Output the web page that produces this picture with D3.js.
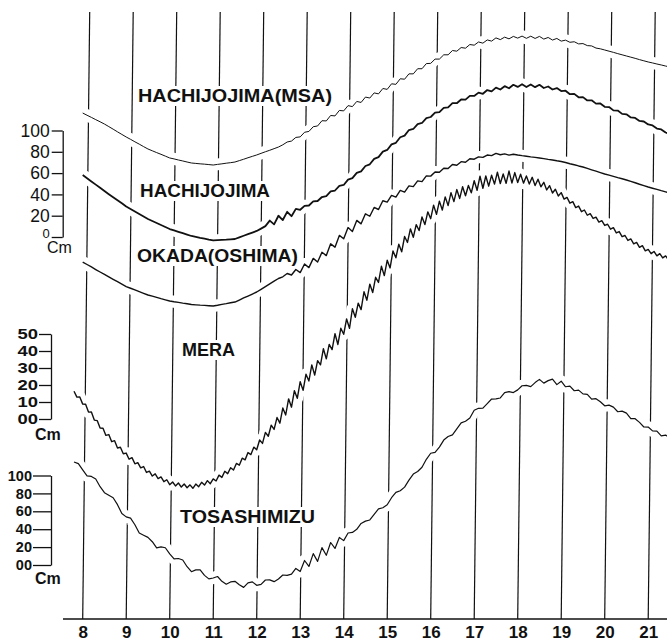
<!DOCTYPE html>
<html><head><meta charset="utf-8">
<script src="https://cdn.jsdelivr.net/npm/d3@7"></script>
<style>body{margin:0;background:#fff}svg{display:block}</style>
</head><body>
<svg id="chart" width="667" height="643"></svg>
<script>
// ---------- DATA ----------
const hourTicks = [8,9,10,11,12,13,14,15,16,17,18,19,20,21];
const topScaleTicks = [0,20,40,60,80,100];
const meraScaleTicks = [0,10,20,30,40,50];
const tosaScaleTicks = [0,20,40,60,80,100];

// traces in cm (relative to each station's own datum), sampled from 8.0 h every 0.1 h
const msaCm = [62.6,60.5,58.5,56.4,54.4, 52.3,49.9,47.5,45.0,42.6, 40.2,38.0,35.7,33.5,31.2, 29.0,27.3,25.6,24.0,22.3,
 20.6,19.7,18.7,17.8,16.8, 15.9,15.5,15.1,14.8,14.4, 14.0,14.6,15.1,15.7,16.2, 16.8,18.1,19.4,20.8,22.1,
 23.4,24.9,26.4,27.8,29.3, 30.8,32.9,35.5,36.4,39.8, 40.3,44.6,45.4,49.8,50.5, 55.4,55.2,60.3,59.9,65.0,
 64.6,69.5,68.6,73.4,72.5, 77.5,76.6,81.4,80.5,85.5, 84.7,89.9,89.4,94.6,94.2, 99.2,99.2,104.0,104.0,108.8,
 109.0,113.0,113.0,117.0,117.0, 121.0,120.4,123.8,123.2,126.6, 126.0,129.0,127.9,130.9,129.8, 132.8,131.2,133.5,131.9,134.2,
 132.6,134.5,132.4,134.4,132.3, 134.2,131.7,133.2,130.8,132.3, 129.8,130.7,128.7,129.2,127.2, 127.5,125.6,125.3,123.3,122.6,
 121.5,120.4,119.3,118.1,117.0, 115.9,114.8,113.7,112.5,111.4, 110.3,109.4,108.4,107.5,106.5, 105.6];

const hachijojimaCm = [70.1,67.1,64.1,61.1,58.1, 55.1,52.2,49.3,46.5,43.6, 40.7,38.4,36.0,33.7,31.3, 29.0,27.1,25.2,23.4,21.5,
 19.6,18.3,17.0,15.7,14.4, 13.1,12.3,11.4,10.6,9.7, 8.9,9.2,9.5,9.7,10.0, 10.3,11.8,13.3,14.8,16.3,
 17.8,20.0,22.3,27.5,24.0, 32.0,28.0,35.7,31.6,38.4, 37.6,41.3,41.6,45.4,45.8, 49.5,50.4,54.7,55.6,60.0,
 60.8,65.8,67.2,72.1,73.5, 78.5,80.1,85.2,86.8,91.9, 93.5,98.7,100.2,105.4,106.9, 112.1,113.1,117.7,118.7,123.3,
 124.3,128.3,128.8,132.8,133.3, 137.3,137.2,140.7,140.6,144.1, 144.0,147.1,146.0,149.5,148.3, 151.8,150.0,153.1,151.2,154.4,
 152.4,154.9,152.3,154.7,152.2, 154.4,151.4,152.8,150.0,151.3, 148.5,148.9,145.6,145.9,142.7, 142.9,139.8,139.9,136.8,136.9,
 133.8,133.6,130.5,130.3,127.2, 126.8,123.9,123.4,120.6,120.1, 117.3,116.4,113.5,112.7,109.8, 108.4];

const okadaCm = [49.5,47.2,44.9,42.5,40.2, 37.9,35.6,33.4,31.1,28.9, 26.6,25.0,23.4,21.9,20.3, 18.7,17.6,16.5,15.3,14.2,
 13.1,12.4,11.8,11.1,10.5, 9.8,9.5,9.2,9.0,8.7, 8.4,9.1,9.9,10.6,11.4, 12.1,14.0,15.9,17.7,19.6,
 21.5,24.0,26.6,29.1,31.6, 34.1,35.7,38.8,37.4,42.5, 39.6,47.7,44.3,52.9,49.5, 58.6,55.5,66.5,63.4,74.4,
 71.3,81.7,78.0,88.4,85.2, 94.6,92.3,100.5,98.6,106.8, 105.5,111.8,110.2,116.5,114.9, 120.7,120.0,125.3,124.7,130.0,
 129.8,133.6,133.4,137.1,136.9, 140.7,140.0,143.3,142.7,146.0, 145.6,147.8,147.3,149.5,149.0, 151.0,149.8,150.6,149.4,150.2,
 149.5,148.9,148.4,147.8,147.3, 146.7,146.1,145.4,144.8,144.1, 143.5,142.5,141.4,140.4,139.3, 138.3,137.0,135.7,134.4,133.1,
 131.8,130.7,129.6,128.4,127.3, 126.2,124.9,123.6,122.2,120.9, 119.6,118.5,117.4,116.2,115.1, 114.0];

// MERA sampled from 7.8 h every 4 minutes
const meraCm = [64.0,60.5,60.6,56.4,56.3,51.7,51.8,47.0,46.7,42.3,
 42.2,38.0,38.5,34.3,34.9,30.6,31.0,27.2,27.6,24.0,
 24.9,21.3,22.0,18.9,19.7,16.2,17.0,14.1,15.4,12.6,
 13.6,10.8,11.9,9.0,10.6,8.3,10.0,7.6,9.4,7.2,
 8.9,6.9,9.4,7.8,10.4,8.8,11.4,9.6,12.4,11.2,
 14.6,13.3,16.9,15.5,19.0,17.6,21.5,20.5,24.6,23.6,
 27.9,26.7,31.1,29.6,35.3,33.3,39.8,37.5,44.0,41.5,
 48.5,45.2,54.1,50.0,59.5,54.6,64.3,59.8,69.6,64.5,
 74.0,70.0,79.5,73.5,82.0,79.5,89.0,83.0,91.5,88.5,
 97.8,91.5,101.0,97.5,106.5,101.0,112.5,107.5,115.8,112.0,
 122.5,117.5,127.0,122.0,131.0,128.0,137.5,132.0,141.0,136.5,
 146.5,142.5,150.5,146.0,155.0,151.5,159.5,154.5,162.0,158.5,
 166.5,162.0,169.5,165.5,173.4,168.0,175.8,170.6,178.3,173.2,
 180.8,175.5,182.6,177.4,184.3,179.0,185.0,180.7,187.8,182.2,
 190.5,183.4,190.6,184.6,191.0,185.8,192.8,186.2,191.8,186.3,
 193.5,186.5,192.6,186.8,191.6,186.4,190.6,185.9,189.8,185.0,
 188.7,184.2,186.9,182.4,184.9,180.6,182.8,178.8,180.8,177.0,
 178.0,174.6,175.5,172.0,172.9,169.6,170.6,167.5,168.4,165.6,
 166.4,163.5,164.3,161.5,162.2,159.3,160.2,157.1,157.9,154.9,
 155.6,152.7,153.6,150.7,151.5,148.6,149.6,146.6,147.4,144.9,
 146.2,143.6,144.9,142.4,143.6,141.3];

// TOSASHIMIZU sampled from 7.8 h every 0.1 h
const tosashimizuCm = [155.1,153.2,
 146.2,139.5,138.8,136.0,127.3, 120.6,117.8,114.9,107.1,97.2, 93.4,92.0,84.6,75.2,72.8, 70.4,65.5,58.6,59.6,58.7,
 51.8,46.2,46.6,45.0,37.4, 31.8,33.8,33.8,27.7,23.7, 24.7,26.4,21.0,17.7,20.3, 21.0,17.1,14.2,19.3,20.4,
 16.5,17.5,22.5,22.6,20.6, 23.6,28.1,27.6,29.0,35.5, 32.0,44.4,37.7,52.1,43.4, 58.8,50.2,64.6,57.9,70.3,
 66.7,75.3,75.9,79.4,86.0, 88.6,89.9,96.2,102.4,103.7, 107.0,114.9,120.9,122.8,126.8, 134.7,141.5,144.4,149.2,158.1,
 164.9,165.8,171.8,179.7,183.7, 185.6,192.3,199.0,200.8,204.5, 213.2,215.4,215.5,220.7,225.8, 226.0,227.0,233.0,234.1,233.1,
 236.1,240.7,241.2,239.8,244.3, 247.9,243.7,246.5,248.2,242.0, 245.8,239.6,240.3,235.1,235.8, 231.6,231.1,225.6,226.2,222.7,
 218.2,219.0,216.7,211.5,212.2, 210.0,203.9,203.7,199.6,194.4, 194.3,190.0,189.8,184.5,185.3, 182.0];

// ---------- DRAWING ----------
const FONT = "'Liberation Sans', Arial, Helvetica, sans-serif";
const INK = '#111';
const svg = d3.select('#chart');
svg.append('rect').attr('width',667).attr('height',643).attr('fill','#fff');

const AXIS_Y = 619, TOP_Y = 12, SLANT = 7;
const x = d3.scaleLinear().domain([8,21]).range([82.7,648.2]);

// hour grid lines (slightly slanted like the recorder paper)
svg.append('g').selectAll('line').data(hourTicks).join('line')
  .attr('x1', d => x(d)).attr('y1', AXIS_Y)
  .attr('x2', d => x(d) + SLANT).attr('y2', TOP_Y)
  .attr('stroke', INK).attr('stroke-width', 1.2);

// time axis
svg.append('line').attr('x1',63).attr('x2',667).attr('y1',AXIS_Y).attr('y2',AXIS_Y)
  .attr('stroke',INK).attr('stroke-width',1.4);
const xAxis = svg.append('g').attr('transform',`translate(0,${AXIS_Y})`)
  .call(d3.axisBottom(x).tickValues(hourTicks).tickSize(0).tickPadding(6.6).tickFormat(d3.format('d')));
xAxis.select('.domain').remove();
xAxis.selectAll('text').attr('font-family',FONT).attr('font-size',17).attr('font-weight','bold').attr('fill',INK);

// stations
const stations = [
  {name:'HACHIJOJIMA(MSA)', values:msaCm, start:8.0, step:0.1,
   y:d3.scaleLinear().domain([0,100]).range([180,73]), w:1.0, lab:[138,102,194]},
  {name:'HACHIJOJIMA', values:hachijojimaCm, start:8.0, step:0.1,
   y:d3.scaleLinear().domain([0,100]).range([250,143]), w:1.8, lab:[140,197,130]},
  {name:'OKADA(OSHIMA)', values:okadaCm, start:8.0, step:0.1,
   y:d3.scaleLinear().domain([0,100]).range([315,208]), w:1.4, lab:[137,262,161]},
  {name:'MERA', values:meraCm, start:7.8, step:1/15,
   y:d3.scaleLinear().domain([0,50]).range([500,415]), w:1.4, lab:[182,356,53]},
  {name:'TOSASHIMIZU', values:tosashimizuCm, start:7.8, step:0.1,
   y:d3.scaleLinear().domain([0,100]).range([600,511]), w:1.2, lab:[180,523,135]}
];

// white patches under the labels
svg.append('g').selectAll('rect').data(stations).join('rect')
  .attr('x', d => d.lab[0]-5).attr('y', d => d.lab[1]-16)
  .attr('width', d => d.lab[2]+10).attr('height', 20).attr('fill','#fff');

const halos = svg.append('g');
const curves = svg.append('g');
stations.forEach(s => {
  const gen = d3.line().x((d,i) => x(s.start + i*s.step)).y(d => s.y(d));
  halos.append('path').attr('d', gen(s.values)).attr('fill','none')
    .attr('stroke','#fff').attr('stroke-width',12).attr('stroke-linejoin','round').attr('stroke-linecap','round');
  curves.append('path').attr('d', gen(s.values)).attr('fill','none')
    .attr('stroke',INK).attr('stroke-width',s.w).attr('stroke-linejoin','round');
});

svg.append('g').selectAll('text').data(stations).join('text')
  .attr('x', d => d.lab[0]).attr('y', d => d.lab[1])
  .attr('textLength', d => d.lab[2]).attr('lengthAdjust','spacingAndGlyphs')
  .attr('font-family',FONT).attr('font-size',17.5).attr('font-weight','bold').attr('fill',INK)
  .text(d => d.name);

// vertical cm scales
function cmScale(tx, scale, ticks, tlen, pad, fs, fw, fmt){
  const g = svg.append('g').attr('transform',`translate(${tx},0)`)
    .call(d3.axisLeft(scale).tickValues(ticks).tickSize(tlen).tickSizeOuter(0).tickPadding(pad).tickFormat(fmt));
  g.select('.domain').attr('stroke',INK).attr('stroke-width',1.3);
  g.selectAll('.tick line').attr('stroke',INK).attr('stroke-width',1.3);
  g.selectAll('text').attr('font-family',FONT).attr('font-size',fs).attr('font-weight',fw).attr('fill',INK);
  return g;
}
const topScaleY = d3.scaleLinear().domain([0,100]).range([237,130.5]);
const gTop = cmScale(62.7, topScaleY, topScaleTicks, 11, 2, 17.5, 'normal', d => String(d));
gTop.selectAll('text').filter(d => d === 0).attr('font-size',13).attr('dy','0.05em');

const meraScaleY = d3.scaleLinear().domain([0,50]).range([419,334]);
const gMera = cmScale(51, meraScaleY, meraScaleTicks, 12, 1, 15.5, 'bold', d => d === 0 ? '00' : String(d));
gMera.selectAll('text').attr('textLength', 20.5).attr('lengthAdjust','spacingAndGlyphs');

const tosaScaleY = d3.scaleLinear().domain([0,100]).range([565,475.5]);
cmScale(51, tosaScaleY, tosaScaleTicks, 18, 1, 14.5, 'bold', d => d === 0 ? '00' : String(d));

const cmLabels = [[47,253,16,'normal'],[35,440,16,'bold'],[35,584,16,'bold']];
svg.append('g').selectAll('text').data(cmLabels).join('text')
  .attr('x', d => d[0]).attr('y', d => d[1]).attr('font-size', d => d[2]).attr('font-weight', d => d[3])
  .attr('font-family',FONT).attr('fill',INK).text('Cm');
</script>
</body></html>
